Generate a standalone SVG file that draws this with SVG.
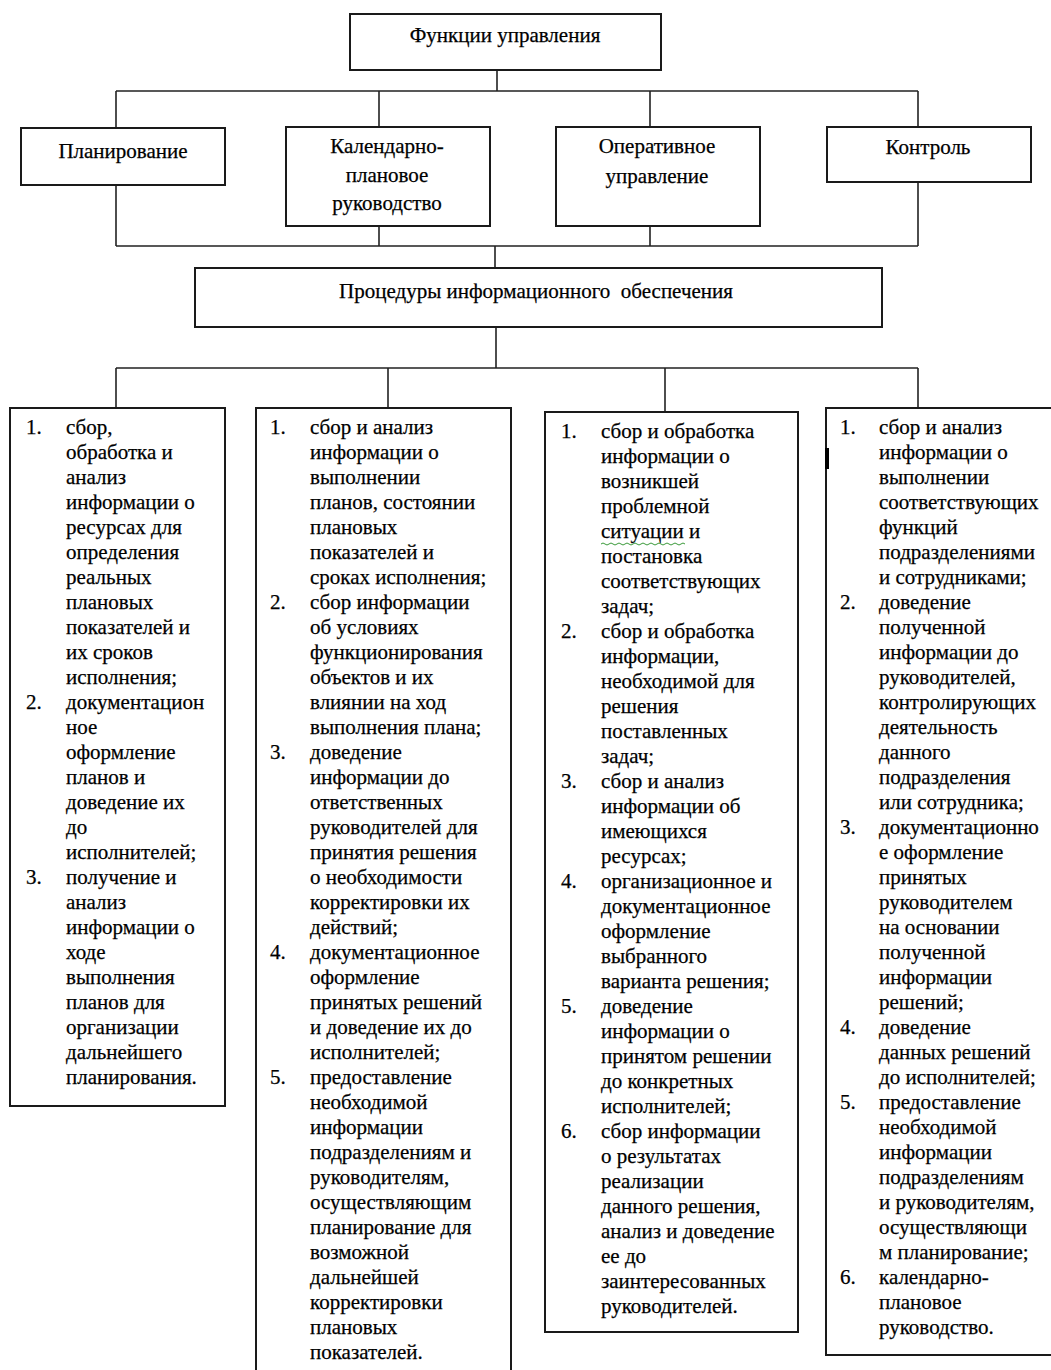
<svg xmlns="http://www.w3.org/2000/svg" width="1051" height="1370" viewBox="0 0 1051 1370">
<style>
.box{fill:#fff;stroke:#1a1a1a;stroke-width:2}
.c{fill:none;stroke:#222;stroke-width:1.6}
text{font-family:"Liberation Serif","Times New Roman",serif;font-size:21px;fill:#000;stroke:#000;stroke-width:0.25}
.m{text-anchor:middle}
</style>
<rect width="1051" height="1370" fill="#fff"/>
<g id="connectors">
<path class="c" d="M497,70 V91 M116,91 H918 M116,91 V128 M379,91 V127 M650,91 V127 M918,91 V127"/>
<path class="c" d="M116,185 V246 M379,226 V246 M650,226 V246 M918,182 V246 M116,246 H918 M495,246 V268"/>
<path class="c" d="M496,327 V368 M116,368 H918 M116,368 V408 M388,368 V408 M665,368 V412 M918,368 V408"/>
</g>
<g id="n-functions">
<rect class="box" x="350" y="14" width="311" height="56"/>
<text class="m" x="505" y="42">Функции управления</text>
</g>
<g id="n-planning">
<rect class="box" x="21" y="128" width="204" height="57"/>
<text class="m" x="123" y="158">Планирование</text>
</g>
<g id="n-calendar">
<rect class="box" x="286" y="127" width="204" height="99"/>
<text class="m" x="387" y="153">Календарно-<tspan x="387" dy="29">плановое</tspan><tspan x="387" dy="28">руководство</tspan></text>
</g>
<g id="n-operative">
<rect class="box" x="556" y="127" width="204" height="99"/>
<text class="m" x="657" y="153">Оперативное<tspan x="657" dy="30">управление</tspan></text>
</g>
<g id="n-control">
<rect class="box" x="827" y="127" width="204" height="55"/>
<text class="m" x="928" y="154">Контроль</text>
</g>
<g id="n-procedures">
<rect class="box" x="195" y="268" width="687" height="59"/>
<text class="m" x="536" y="298">Процедуры информационного&#160;&#160;обеспечения</text>
</g>
<g id="n-col1">
<rect class="box" x="10" y="408" width="215" height="698"/>
<text x="26" y="434">1.</text>
<text x="26" y="709">2.</text>
<text x="26" y="884">3.</text>
<text x="66" y="434">сбор,<tspan x="66" dy="25">обработка и</tspan><tspan x="66" dy="25">анализ</tspan><tspan x="66" dy="25">информации о</tspan><tspan x="66" dy="25">ресурсах для</tspan><tspan x="66" dy="25">определения</tspan><tspan x="66" dy="25">реальных</tspan><tspan x="66" dy="25">плановых</tspan><tspan x="66" dy="25">показателей и</tspan><tspan x="66" dy="25">их сроков</tspan><tspan x="66" dy="25">исполнения;</tspan><tspan x="66" dy="25">документацион</tspan><tspan x="66" dy="25">ное</tspan><tspan x="66" dy="25">оформление</tspan><tspan x="66" dy="25">планов и</tspan><tspan x="66" dy="25">доведение их</tspan><tspan x="66" dy="25">до</tspan><tspan x="66" dy="25">исполнителей;</tspan><tspan x="66" dy="25">получение и</tspan><tspan x="66" dy="25">анализ</tspan><tspan x="66" dy="25">информации о</tspan><tspan x="66" dy="25">ходе</tspan><tspan x="66" dy="25">выполнения</tspan><tspan x="66" dy="25">планов для</tspan><tspan x="66" dy="25">организации</tspan><tspan x="66" dy="25">дальнейшего</tspan><tspan x="66" dy="25">планирования.</tspan></text>
</g>
<g id="n-col2">
<rect class="box" x="256" y="408" width="255" height="980"/>
<text x="270" y="434">1.</text>
<text x="270" y="609">2.</text>
<text x="270" y="759">3.</text>
<text x="270" y="959">4.</text>
<text x="270" y="1084">5.</text>
<text x="310" y="434">сбор и анализ<tspan x="310" dy="25">информации о</tspan><tspan x="310" dy="25">выполнении</tspan><tspan x="310" dy="25">планов, состоянии</tspan><tspan x="310" dy="25">плановых</tspan><tspan x="310" dy="25">показателей и</tspan><tspan x="310" dy="25">сроках исполнения;</tspan><tspan x="310" dy="25">сбор информации</tspan><tspan x="310" dy="25">об условиях</tspan><tspan x="310" dy="25">функционирования</tspan><tspan x="310" dy="25">объектов и их</tspan><tspan x="310" dy="25">влиянии на ход</tspan><tspan x="310" dy="25">выполнения плана;</tspan><tspan x="310" dy="25">доведение</tspan><tspan x="310" dy="25">информации до</tspan><tspan x="310" dy="25">ответственных</tspan><tspan x="310" dy="25">руководителей для</tspan><tspan x="310" dy="25">принятия решения</tspan><tspan x="310" dy="25">о необходимости</tspan><tspan x="310" dy="25">корректировки их</tspan><tspan x="310" dy="25">действий;</tspan><tspan x="310" dy="25">документационное</tspan><tspan x="310" dy="25">оформление</tspan><tspan x="310" dy="25">принятых решений</tspan><tspan x="310" dy="25">и доведение их до</tspan><tspan x="310" dy="25">исполнителей;</tspan><tspan x="310" dy="25">предоставление</tspan><tspan x="310" dy="25">необходимой</tspan><tspan x="310" dy="25">информации</tspan><tspan x="310" dy="25">подразделениям и</tspan><tspan x="310" dy="25">руководителям,</tspan><tspan x="310" dy="25">осуществляющим</tspan><tspan x="310" dy="25">планирование для</tspan><tspan x="310" dy="25">возможной</tspan><tspan x="310" dy="25">дальнейшей</tspan><tspan x="310" dy="25">корректировки</tspan><tspan x="310" dy="25">плановых</tspan><tspan x="310" dy="25">показателей.</tspan></text>
</g>
<g id="n-col3">
<rect class="box" x="545" y="412" width="253" height="920"/>
<text x="561" y="438">1.</text>
<text x="561" y="638">2.</text>
<text x="561" y="788">3.</text>
<text x="561" y="888">4.</text>
<text x="561" y="1013">5.</text>
<text x="561" y="1138">6.</text>
<text x="601" y="438">сбор и обработка<tspan x="601" dy="25">информации о</tspan><tspan x="601" dy="25">возникшей</tspan><tspan x="601" dy="25">проблемной</tspan><tspan x="601" dy="25">ситуации и</tspan><tspan x="601" dy="25">постановка</tspan><tspan x="601" dy="25">соответствующих</tspan><tspan x="601" dy="25">задач;</tspan><tspan x="601" dy="25">сбор и обработка</tspan><tspan x="601" dy="25">информации,</tspan><tspan x="601" dy="25">необходимой для</tspan><tspan x="601" dy="25">решения</tspan><tspan x="601" dy="25">поставленных</tspan><tspan x="601" dy="25">задач;</tspan><tspan x="601" dy="25">сбор и анализ</tspan><tspan x="601" dy="25">информации об</tspan><tspan x="601" dy="25">имеющихся</tspan><tspan x="601" dy="25">ресурсах;</tspan><tspan x="601" dy="25">организационное и</tspan><tspan x="601" dy="25">документационное</tspan><tspan x="601" dy="25">оформление</tspan><tspan x="601" dy="25">выбранного</tspan><tspan x="601" dy="25">варианта решения;</tspan><tspan x="601" dy="25">доведение</tspan><tspan x="601" dy="25">информации о</tspan><tspan x="601" dy="25">принятом решении</tspan><tspan x="601" dy="25">до конкретных</tspan><tspan x="601" dy="25">исполнителей;</tspan><tspan x="601" dy="25">сбор информации</tspan><tspan x="601" dy="25">о результатах</tspan><tspan x="601" dy="25">реализации</tspan><tspan x="601" dy="25">данного решения,</tspan><tspan x="601" dy="25">анализ и доведение</tspan><tspan x="601" dy="25">ее до</tspan><tspan x="601" dy="25">заинтересованных</tspan><tspan x="601" dy="25">руководителей.</tspan></text>
<path d="M601,544 q2,-2 4,0 t4,0 t4,0 t4,0 t4,0 t4,0 t4,0 t4,0 t4,0 t4,0 t4,0 t4,0 t4,0 t4,0 t4,0 t4,0 t4,0 t4,0 t4,0 t4,0 t4,0" fill="none" stroke="#3a9a3a" stroke-width="1"/>
</g>
<g id="n-col4">
<rect class="box" x="826" y="408" width="240" height="947"/>
<rect x="825" y="448" width="4" height="21" fill="#000"/>
<text x="840" y="434">1.</text>
<text x="840" y="609">2.</text>
<text x="840" y="834">3.</text>
<text x="840" y="1034">4.</text>
<text x="840" y="1109">5.</text>
<text x="840" y="1284">6.</text>
<text x="879" y="434">сбор и анализ<tspan x="879" dy="25">информации о</tspan><tspan x="879" dy="25">выполнении</tspan><tspan x="879" dy="25">соответствующих</tspan><tspan x="879" dy="25">функций</tspan><tspan x="879" dy="25">подразделениями</tspan><tspan x="879" dy="25">и сотрудниками;</tspan><tspan x="879" dy="25">доведение</tspan><tspan x="879" dy="25">полученной</tspan><tspan x="879" dy="25">информации до</tspan><tspan x="879" dy="25">руководителей,</tspan><tspan x="879" dy="25">контролирующих</tspan><tspan x="879" dy="25">деятельность</tspan><tspan x="879" dy="25">данного</tspan><tspan x="879" dy="25">подразделения</tspan><tspan x="879" dy="25">или сотрудника;</tspan><tspan x="879" dy="25">документационно</tspan><tspan x="879" dy="25">е оформление</tspan><tspan x="879" dy="25">принятых</tspan><tspan x="879" dy="25">руководителем</tspan><tspan x="879" dy="25">на основании</tspan><tspan x="879" dy="25">полученной</tspan><tspan x="879" dy="25">информации</tspan><tspan x="879" dy="25">решений;</tspan><tspan x="879" dy="25">доведение</tspan><tspan x="879" dy="25">данных решений</tspan><tspan x="879" dy="25">до исполнителей;</tspan><tspan x="879" dy="25">предоставление</tspan><tspan x="879" dy="25">необходимой</tspan><tspan x="879" dy="25">информации</tspan><tspan x="879" dy="25">подразделениям</tspan><tspan x="879" dy="25">и руководителям,</tspan><tspan x="879" dy="25">осуществляющи</tspan><tspan x="879" dy="25">м планирование;</tspan><tspan x="879" dy="25">календарно-</tspan><tspan x="879" dy="25">плановое</tspan><tspan x="879" dy="25">руководство.</tspan></text>
</g>
</svg>
